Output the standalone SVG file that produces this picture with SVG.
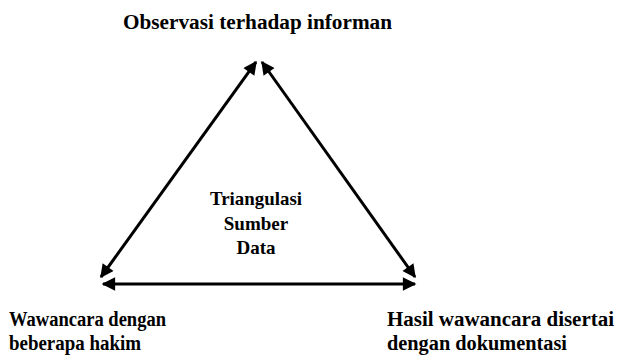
<svg xmlns="http://www.w3.org/2000/svg" width="619" height="356" viewBox="0 0 619 356">
<style>
.ln{stroke:#000;stroke-width:3;fill:none;marker-start:url(#a);marker-end:url(#a)}
</style>
<defs>
<marker id="a" viewBox="0 0 10 10" refX="9" refY="5" markerWidth="5" markerHeight="4.5" orient="auto-start-reverse" markerUnits="strokeWidth">
<path d="M0,0L10,5L0,10z" fill="#000"/>
</marker>
</defs>
<rect width="619" height="356" fill="#fff"/>
<g id="connectors">
<line class="ln" x1="101" y1="277" x2="256" y2="62"/>
<line class="ln" x1="262" y1="62" x2="415" y2="277"/>
<line class="ln" x1="103" y1="284" x2="415" y2="284"/>
</g>
<g font-family="'Liberation Serif', 'Times New Roman', serif" font-weight="bold" fill="#000" font-size="20">
<g id="top"><text x="123" y="29" textLength="269" lengthAdjust="spacingAndGlyphs">Observasi terhadap informan</text></g>
<g id="center" font-size="19" text-anchor="middle">
<text x="256" y="205" textLength="92" lengthAdjust="spacingAndGlyphs">Triangulasi</text>
<text x="256" y="230">Sumber</text>
<text x="256" y="254">Data</text>
</g>
<g id="left">
<text x="9" y="326" textLength="157" lengthAdjust="spacingAndGlyphs">Wawancara dengan</text>
<text x="9" y="350" textLength="132" lengthAdjust="spacingAndGlyphs">beberapa hakim</text>
</g>
<g id="right">
<text x="387" y="326" textLength="227" lengthAdjust="spacingAndGlyphs">Hasil wawancara disertai</text>
<text x="387" y="350" textLength="180" lengthAdjust="spacingAndGlyphs">dengan dokumentasi</text>
</g>
</g>
</svg>
